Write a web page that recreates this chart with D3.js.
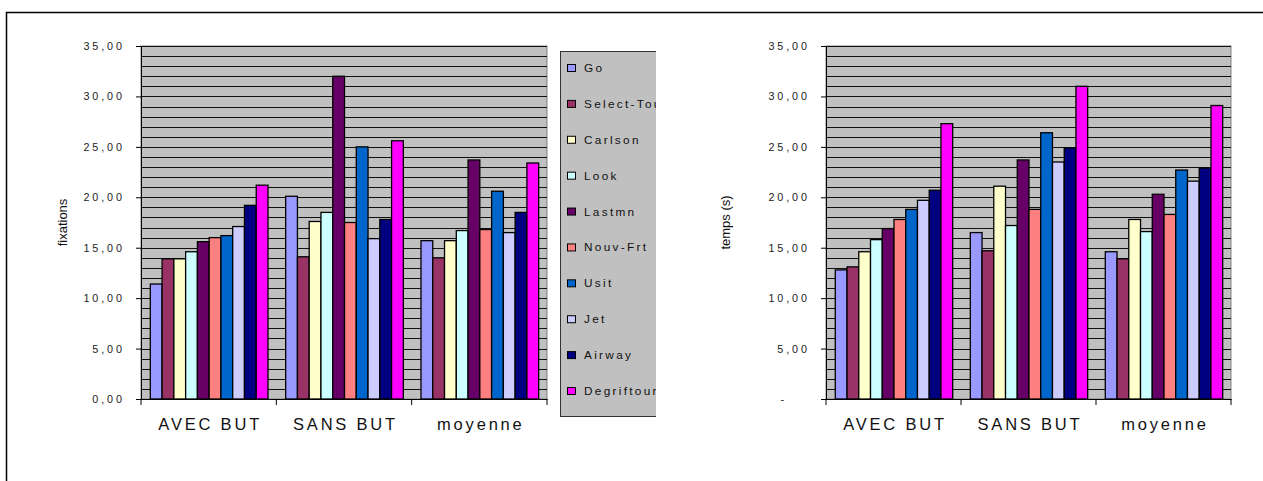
<!DOCTYPE html>
<html>
<head>
<meta charset="utf-8">
<script src="https://cdn.jsdelivr.net/npm/d3@7"></script>
<style>
  html, body { margin: 0; padding: 0; background: #fff; }
  svg { display: block; }
  text { font-family: Arial, "Liberation Sans", sans-serif; }
</style>
</head>
<body>
<svg id="chart" width="1263" height="481"></svg>
<script>
const categories = ["AVEC BUT", "SANS BUT", "moyenne"];
const seriesNames = ["Go", "Select-Tour", "Carlson", "Look", "Lastmn", "Nouv-Frt", "Usit", "Jet", "Airway", "Degriftour"];
const seriesColors = ["#9999FF", "#993366", "#FFFFCC", "#CCFFFF", "#660066", "#FF8080", "#0066CC", "#CCCCFF", "#000080", "#FF00FF"];

// fixations per category: one array per series [AVEC BUT, SANS BUT, moyenne]
const fixGo         = [11.4, 20.1, 15.7];
const fixSelectTour = [13.9, 14.1, 14.0];
const fixCarlson    = [13.9, 17.6, 15.7];
const fixLook       = [14.6, 18.5, 16.7];
const fixLastmn     = [15.6, 32.0, 23.7];
const fixNouvFrt    = [16.0, 17.5, 16.8];
const fixUsit       = [16.2, 25.0, 20.6];
const fixJet        = [17.1, 15.9, 16.5];
const fixAirway     = [19.2, 17.8, 18.5];
const fixDegriftour = [21.2, 25.6, 23.4];

// temps (s)
const timGo         = [12.8, 16.5, 14.6];
const timSelectTour = [13.1, 14.7, 13.9];
const timCarlson    = [14.6, 21.1, 17.8];
const timLook       = [15.8, 17.2, 16.6];
const timLastmn     = [16.9, 23.7, 20.3];
const timNouvFrt    = [17.8, 18.8, 18.3];
const timUsit       = [18.8, 26.4, 22.7];
const timJet        = [19.7, 23.5, 21.6];
const timAirway     = [20.7, 24.9, 22.9];
const timDegriftour = [27.3, 31.0, 29.1];

const yTickValues = [0, 5, 10, 15, 20, 25, 30, 35];
const leftTickLabels  = ["0,00", "5,00", "10,00", "15,00", "20,00", "25,00", "30,00", "35,00"];
const rightTickLabels = ["-", "5,00", "10,00", "15,00", "20,00", "25,00", "30,00", "35,00"];

const fixSeries = [fixGo, fixSelectTour, fixCarlson, fixLook, fixLastmn, fixNouvFrt, fixUsit, fixJet, fixAirway, fixDegriftour];
const timSeries = [timGo, timSelectTour, timCarlson, timLook, timLastmn, timNouvFrt, timUsit, timJet, timAirway, timDegriftour];

const svg = d3.select("#chart");

// outer frame
svg.append("rect").attr("x", 6.5).attr("y", 12.5).attr("width", 1300).attr("height", 520)
  .attr("fill", "none").attr("stroke", "#000").attr("stroke-width", 1.5);

function drawChart(opts) {
  const { x0, x1, y0, y1, series, tickLabels, title, titleX } = opts;
  const g = svg.append("g");
  const x = d3.scaleBand().domain(categories).range([x0, x1]).padding(0);
  const xi = d3.scaleBand().domain(seriesNames).range([0, x.bandwidth()]).paddingInner(0).paddingOuter(0.75);
  const y = d3.scaleLinear().domain([0, 35]).range([y1, y0]);

  // plot background
  g.append("rect").attr("x", x0).attr("y", y0).attr("width", x1 - x0).attr("height", y1 - y0)
    .attr("fill", "#C0C0C0").attr("stroke", "#808080").attr("stroke-width", 1);

  // gridlines every unit
  g.append("g").selectAll("line").data(d3.range(1, 36)).join("line")
    .attr("x1", x0).attr("x2", x1)
    .attr("y1", d => Math.round(y(d)) + 0.5).attr("y2", d => Math.round(y(d)) + 0.5)
    .attr("stroke", "#111").attr("stroke-width", 1);

  // bars
  const rows = [];
  series.forEach((vals, si) => {
    vals.forEach((v, ci) => rows.push({ s: seriesNames[si], c: categories[ci], v, color: seriesColors[si] }));
  });
  g.append("g").selectAll("rect").data(rows).join("rect")
    .attr("x", d => x(d.c) + xi(d.s) + 0.5)
    .attr("y", d => y(d.v))
    .attr("width", xi.bandwidth())
    .attr("height", d => y(0) - y(d.v))
    .attr("fill", d => d.color)
    .attr("stroke", "#000").attr("stroke-width", 1.3);

  // y axis
  const ya = g.append("g").attr("transform", `translate(${x0},0)`)
    .call(d3.axisLeft(y).tickValues(yTickValues).tickSize(5).tickPadding(14)
      .tickFormat((d, i) => tickLabels[i]));
  ya.select(".domain").attr("stroke", "#000");
  ya.selectAll(".tick line").attr("stroke", "#000");
  ya.selectAll(".tick text").attr("font-size", 10.8).attr("fill", "#222")
    .attr("letter-spacing", "2.9px").attr("dx", "2.9px")
    .filter(d => tickLabels[yTickValues.indexOf(d)] === "-").attr("dx", "-20px");

  // x axis
  const xa = g.append("g").attr("transform", `translate(0,${y1})`)
    .call(d3.axisBottom(x).tickSize(0).tickFormat(""));
  xa.select(".domain").attr("stroke", "#000").attr("stroke-width", 1.2);
  // category boundary ticks
  g.append("g").selectAll("line").data(d3.range(0, categories.length + 1)).join("line")
    .attr("x1", i => x0 + i * x.step()).attr("x2", i => x0 + i * x.step())
    .attr("y1", y1).attr("y2", y1 + 6).attr("stroke", "#000");
  g.append("g").selectAll("text").data(categories).join("text")
    .attr("x", d => x(d) + x.bandwidth() / 2 + 1.5)
    .attr("y", y1 + 31)
    .attr("text-anchor", "middle")
    .attr("font-size", 16.5).attr("letter-spacing", "2.8px").attr("fill", "#111")
    .text(d => d);

  // title
  g.append("text").attr("transform", `translate(${titleX},${(y0 + y1) / 2}) rotate(-90)`)
    .attr("text-anchor", "middle").attr("dominant-baseline", "central")
    .attr("font-size", 13).attr("fill", "#111").text(title);
}

drawChart({ x0: 141, x1: 547, y0: 46, y1: 399, series: fixSeries, tickLabels: leftTickLabels, title: "fixations", titleX: 62 });
drawChart({ x0: 826, x1: 1231, y0: 46, y1: 399, series: timSeries, tickLabels: rightTickLabels, title: "temps (s)", titleX: 725 });

// legend (clipped at right as in the original)
const defs = svg.append("defs");
defs.append("clipPath").attr("id", "legclip").append("rect")
  .attr("x", 555).attr("y", 40).attr("width", 101).attr("height", 390);
const leg = svg.append("g").attr("clip-path", "url(#legclip)");
leg.append("rect").attr("x", 560.5).attr("y", 51.5).attr("width", 120).attr("height", 365)
  .attr("fill", "#C0C0C0").attr("stroke", "#333").attr("stroke-width", 1);
const ly = d3.scalePoint().domain(seriesNames).range([68, 391]);
const items = leg.selectAll("g.item").data(seriesNames).join("g").attr("class", "item")
  .attr("transform", d => `translate(0,${ly(d)})`);
items.append("rect").attr("x", 567.5).attr("y", -3.5).attr("width", 8).attr("height", 7)
  .attr("fill", (d, i) => seriesColors[i]).attr("stroke", "#000").attr("stroke-width", 1);
items.append("text").attr("x", 584).attr("y", 4)
  .attr("font-size", 11.8).attr("letter-spacing", "2.3px").attr("fill", "#111")
  .text(d => d);
</script>
</body>
</html>
